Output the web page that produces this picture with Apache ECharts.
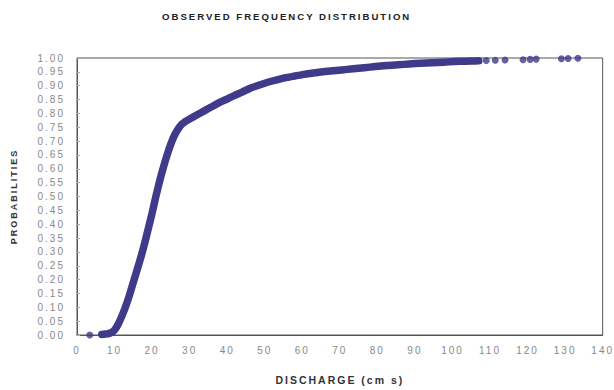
<!DOCTYPE html>
<html>
<head>
<meta charset="utf-8">
<script src="https://cdn.jsdelivr.net/npm/echarts@6/dist/echarts.min.js"></script>
<style>
  html, body { margin: 0; padding: 0; background: #fff; }
  #chart { width: 614px; height: 390px; }
  #chart text { letter-spacing: 2px; }
</style>
</head>
<body>
<div id="chart"></div>
<script>
// Main dense part of the empirical distribution (discharge, probability)
const mainDischarge = [6.6, 7.3, 8.0, 8.6, 9.2, 10, 11, 12, 13, 14, 15, 16, 17, 18, 19, 20, 21, 22, 23, 24, 25, 26, 27, 28, 29, 30, 32, 34, 36, 38, 40, 42, 44, 46, 48, 50, 52, 54, 56, 58, 60, 63, 66, 69, 72, 75, 78, 81, 84, 87, 90, 93, 96, 99, 102, 105, 107];
const mainProb = [0.002, 0.003, 0.004, 0.006, 0.009, 0.018, 0.04, 0.07, 0.105, 0.145, 0.19, 0.235, 0.28, 0.33, 0.385, 0.44, 0.5, 0.555, 0.605, 0.65, 0.69, 0.722, 0.745, 0.762, 0.772, 0.78, 0.795, 0.81, 0.825, 0.84, 0.852, 0.865, 0.877, 0.89, 0.9, 0.909, 0.917, 0.924, 0.93, 0.935, 0.94, 0.946, 0.951, 0.955, 0.959, 0.963, 0.967, 0.971, 0.974, 0.977, 0.98, 0.982, 0.984, 0.986, 0.988, 0.989, 0.99];
// Isolated observations at both tails
const tailDischarge = [3.4, 109, 111.4, 114, 118.8, 120.7, 122.3, 129, 130.8, 133.4];
const tailProb = [0.0, 0.991, 0.992, 0.993, 0.994, 0.995, 0.996, 0.997, 0.998, 0.999];

const titleText = 'OBSERVED FREQUENCY DISTRIBUTION';
const xName = 'DISCHARGE (cm s)';
const yName = 'PROBABILITIES';

const FONT = 'Liberation Sans, Arial, Helvetica, sans-serif';
const DOT = '#3f3a8a';

const chart = echarts.init(document.getElementById('chart'), null, { renderer: 'svg' });
chart.setOption({
  backgroundColor: '#ffffff',
  animation: false,
  title: {
    text: titleText,
    left: 157, top: 6,
    textStyle: { fontFamily: FONT, fontSize: 9.6, fontWeight: 'bold', color: '#222' }
  },
  grid: {
    left: 77, right: 9, top: 58, bottom: 52,
    show: true, borderColor: '#555', borderWidth: 1, backgroundColor: 'transparent'
  },
  xAxis: {
    type: 'value', min: 0, max: 140, interval: 10,
    name: xName, nameLocation: 'middle', nameGap: 39,
    nameTextStyle: { fontFamily: FONT, fontSize: 10.5, fontWeight: 'bold', color: '#333' },
    axisLine: { show: true, lineStyle: { color: '#555', width: 1 } },
    axisTick: { show: false },
    splitLine: { show: false },
    axisLabel: { fontFamily: FONT, fontSize: 10, color: '#888', margin: 10 }
  },
  yAxis: {
    type: 'value', min: 0, max: 1, interval: 0.05,
    name: yName, nameLocation: 'middle', nameGap: 59, nameRotate: 90,
    nameTextStyle: { fontFamily: FONT, fontSize: 9, fontWeight: 'bold', color: '#333' },
    axisLine: { show: true, lineStyle: { color: '#555', width: 1 } },
    axisTick: { show: true, inside: true, length: 3, lineStyle: { color: '#aaa' } },
    splitLine: { show: false },
    axisLabel: { fontFamily: FONT, fontSize: 10, color: '#888', margin: 12,
      formatter: v => v.toFixed(2) }
  },
  series: [
    {
      type: 'line',
      data: mainDischarge.map((x, i) => [x, mainProb[i]]),
      showSymbol: false,
      symbol: 'none',
      smooth: 0.2,
      lineStyle: { color: DOT, width: 7.5, cap: 'round', join: 'round' },
      z: 3
    },
    {
      type: 'scatter',
      data: tailDischarge.map((x, i) => [x, tailProb[i]]),
      symbol: 'circle',
      symbolSize: 7,
      itemStyle: { color: DOT },
      z: 4
    }
  ]
});
</script>
</body>
</html>
